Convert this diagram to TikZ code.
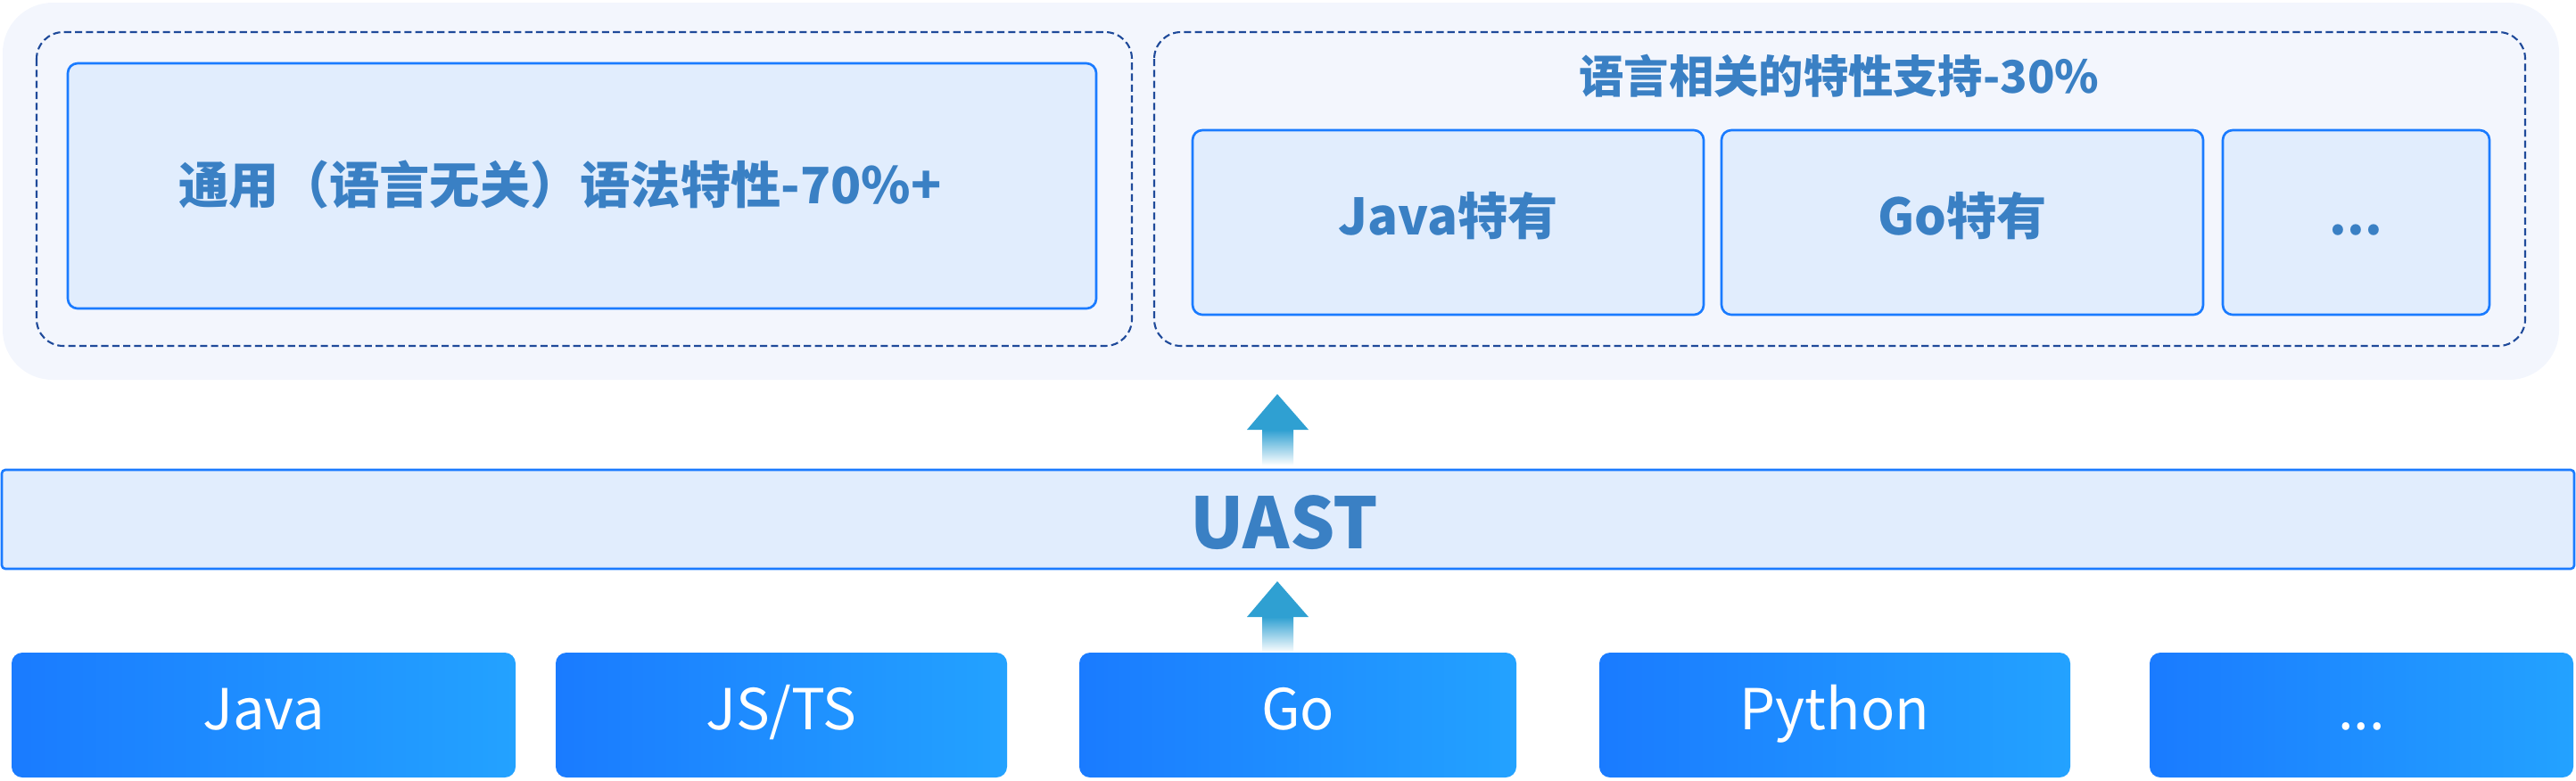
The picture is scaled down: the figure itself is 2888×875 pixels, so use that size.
\documentclass[tikz,border=0pt]{standalone}
\usepackage{fontspec}
\setmainfont{Noto Sans CJK SC}
\usetikzlibrary{positioning}

\definecolor{panelbg}{RGB}{243,246,253}
\definecolor{boxbg}{RGB}{225,237,253}
\definecolor{boxline}{RGB}{26,123,255}
\definecolor{dashline}{RGB}{31,74,154}
\definecolor{txtblue}{RGB}{58,128,196}
\definecolor{arrowc}{RGB}{47,160,210}
\definecolor{langl}{RGB}{26,123,255}
\definecolor{langr}{RGB}{35,162,255}

\newcommand{\moredots}{...}

\tikzset{
    featbox/.style={fill=boxbg, draw=boxline, line width=0.75pt, rounded corners=0.11cm},
    dashbox/.style={draw=dashline, line width=0.6pt, dash pattern=on 2.3pt off 1.2pt, rounded corners=0.3cm},
    featlabel/.style={anchor=base, text=txtblue, font=\bfseries\fontsize{16}{18}\selectfont},
    langlabel/.style={anchor=base, text=white, font=\fontsize{18}{20}\selectfont},
}

\begin{document}
\begin{tikzpicture}[x=0.01cm, y=-0.01cm]
    \useasboundingbox (0,0) rectangle (2888,875);
    % feature panel
    \fill[panelbg, rounded corners=0.56cm] (3,3) rectangle (2869,426);
    \draw[dashbox] (41,36) rectangle (1269,388);
    \draw[dashbox] (1294,36) rectangle (2831,388);
    \draw[featbox] (76,71) rectangle (1229,346);
    \node[featlabel] (general) at (628,228) {通用（语言无关）语法特性-70\%+};
    \node[featlabel, font=\bfseries\fontsize{14.3}{16}\selectfont] (spec) at (2062,104) {语言相关的特性支持-30\%};
    \foreach \xa/\xb/\name/\txt in {1337/1910/javaf/Java特有, 1930/2470/gof/Go特有, 2492/2791/moref/\moredots} {
        \draw[featbox] (\xa,146) rectangle (\xb,353);
        \node[featlabel] (\name) at ({(\xa+\xb)/2},263) {\txt};
    }
    % UAST
    \draw[fill=boxbg, draw=boxline, line width=0.75pt, rounded corners=0.04cm] (2,527) rectangle (2886,638);
    \node[featlabel, font=\bfseries\fontsize{22.5}{24}\selectfont] (uast) at (1440,615) {UAST};
    % arrows
    \foreach \ya in {442,652} {
        \fill[arrowc] (1432,\ya) -- (1467,\ya+40) -- (1398,\ya+40) -- cycle;
        \shade[top color=arrowc, bottom color=white] (1415,\ya+40) rectangle (1450,\ya+80);
    }
    % languages
    \foreach \xa/\xb/\name/\txt in {13/578/java/Java, 623/1129/jsts/{JS/TS}, 1210/1700/go/Go, 1793/2321/python/Python, 2410/2885/more/\moredots} {
        \shade[left color=langl, right color=langr, rounded corners=0.12cm] (\xa,732) rectangle (\xb,872);
        \node[langlabel] (\name) at ({(\xa+\xb)/2},818) {\txt};
    }
\end{tikzpicture}
\end{document}
